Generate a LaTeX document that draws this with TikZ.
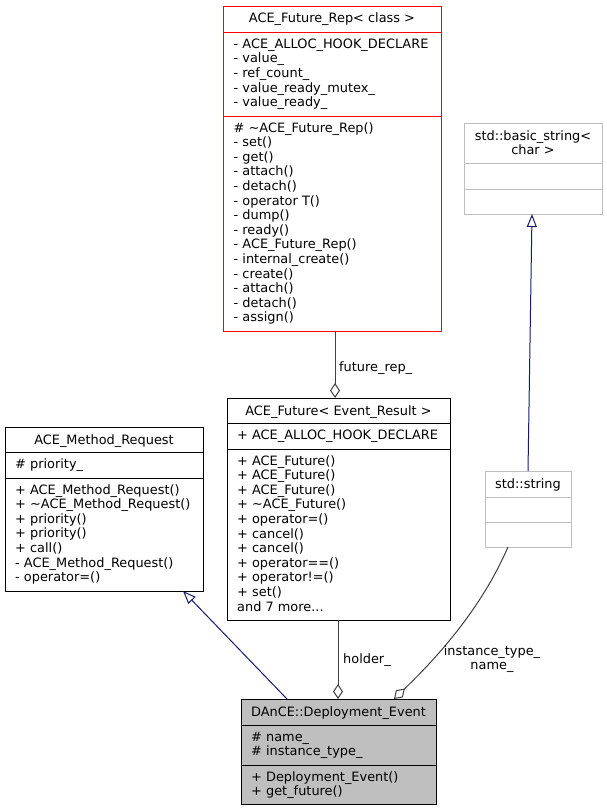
\documentclass[tikz,border=0pt]{standalone}
\usepackage{fontspec}
\setmainfont{DejaVu Sans}
\usetikzlibrary{arrows.meta}
\definecolor{navyline}{HTML}{191970}
\definecolor{aggline}{HTML}{404040}
\definecolor{grayborder}{HTML}{BFBFBF}
\definecolor{redborder}{HTML}{FF0000}
\tikzset{
  umlbox/.style={draw, line width=1pt, inner sep=0pt, anchor=north west},
  txt/.style={inner sep=0pt, font=\fontsize{12.9}{14.6}\selectfont},
  inh/.style={draw=navyline, line width=1pt, -{Triangle[open, length=13pt, width=10pt]}},
  agg/.style={draw=aggline, line width=1pt, -{Diamond[open, length=15pt, width=10pt]}},
  lbl/.style={inner sep=0pt, font=\fontsize{12.9}{14.6}\selectfont},
}
\newcommand\tdots{...}
\newcommand\mlines[4]{%
  \foreach \t [count=\i from 0] in {#4}{\node[txt, anchor=base west] (#1\i) at (#2, #3+\i*14.6) {\t};}}
\begin{document}
\begin{tikzpicture}[x=1pt, y=-1pt]
\useasboundingbox (0,0) rectangle (607,811);

% ACE_Future_Rep< class >
\node[umlbox, draw=redborder, minimum width=218pt, minimum height=325pt] (rep) at (223,6) {};
\draw[redborder, line width=1pt] (223,32) -- (441,32) (223,116) -- (441,116);
\node[txt, anchor=base] (repT) at (332,23) {ACE\_Future\_Rep< class >};
\mlines{repA}{233.5}{48.3}{- ACE\_ALLOC\_HOOK\_DECLARE, - value\_, - ref\_count\_, - value\_ready\_mutex\_, - value\_ready\_}
\mlines{repM}{233.5}{132}{\# \textasciitilde ACE\_Future\_Rep(), - set(), - get(), - attach(), - detach(), - operator T(), - dump(), - ready(), - ACE\_Future\_Rep(), - internal\_create(), - create(), - attach(), - detach(), - assign()}

% std::basic_string< char >
\node[umlbox, draw=grayborder, minimum width=138pt, minimum height=91pt] (bs) at (464,123) {};
\draw[grayborder, line width=1pt] (464,163) -- (602,163) (464,189) -- (602,189);
\node[txt, anchor=base] (bsT1) at (533,140) {std::basic\_string<};
\node[txt, anchor=base] (bsT2) at (533,154.6) {char >};

% std::string
\node[umlbox, draw=grayborder, minimum width=86pt, minimum height=76pt] (ss) at (485,471) {};
\draw[grayborder, line width=1pt] (485,497) -- (571,497) (485,522) -- (571,522);
\node[txt, anchor=base] (ssT) at (528,488) {std::string};

% ACE_Method_Request
\node[umlbox, minimum width=198pt, minimum height=164pt] (mr) at (5,427) {};
\draw[line width=1pt] (5,452) -- (203,452) (5,478) -- (203,478);
\node[txt, anchor=base] (mrT) at (104,444) {ACE\_Method\_Request};
\mlines{mrA}{15}{468}{\# priority\_}
\mlines{mrM}{15}{494}{+ ACE\_Method\_Request(), + \textasciitilde ACE\_Method\_Request(), + priority(), + priority(), + call(), - ACE\_Method\_Request(), - operator=()}

% ACE_Future< Event_Result >
\node[umlbox, minimum width=223pt, minimum height=222pt] (fut) at (227,398) {};
\draw[line width=1pt] (227,423) -- (450,423) (227,449) -- (450,449);
\node[txt, anchor=base] (futT) at (338.5,415) {ACE\_Future< Event\_Result >};
\mlines{futA}{237}{439}{+ ACE\_ALLOC\_HOOK\_DECLARE}
\mlines{futM}{237}{465}{+ ACE\_Future(), + ACE\_Future(), + ACE\_Future(), + \textasciitilde ACE\_Future(), + operator=(), + cancel(), + cancel(), + operator==(), + operator!=(), + set(), and 7 more\tdots}

% DAnCE::Deployment_Event
\node[umlbox, fill=grayborder, minimum width=195pt, minimum height=105pt] (dep) at (241,699) {};
\draw[line width=1pt] (241,725) -- (436,725) (241,765) -- (436,765);
\node[txt, anchor=base] (depT) at (338.5,716) {DAnCE::Deployment\_Event};
\mlines{depA}{251}{741}{\# name\_, \# instance\_type\_}
\mlines{depM}{251}{781}{+ Deployment\_Event(), + get\_future()}

% connector end points
\coordinate (repB) at (335,331);
\coordinate (futTop) at (335,398);
\coordinate (futB) at (338,620);
\coordinate (depTopA) at (338,699);
\coordinate (ssB) at (508,547);
\coordinate (depTopB) at (394,699);
\coordinate (depTopC) at (287,699);
\coordinate (mrB) at (183,591);
\coordinate (ssTop) at (528,471);
\coordinate (bsB) at (532,214);

% connectors
\draw[agg] (repB) -- (futTop);
\node[lbl, anchor=base west] (lblRep) at (339,371) {future\_rep\_};
\draw[agg] (futB) -- (depTopA);
\node[lbl, anchor=base west] (lblHold) at (343,663) {holder\_};
\draw[agg] (ssB) .. controls (485,600) and (448,647) .. (depTopB);
\node[lbl, anchor=base] (lblIT) at (492,655) {instance\_type\_};
\node[lbl, anchor=base] (lblN) at (492,669.6) {name\_};
\draw[inh] (depTopC) -- (mrB);
\draw[inh] (ssTop) -- (bsB);
\end{tikzpicture}
\end{document}
